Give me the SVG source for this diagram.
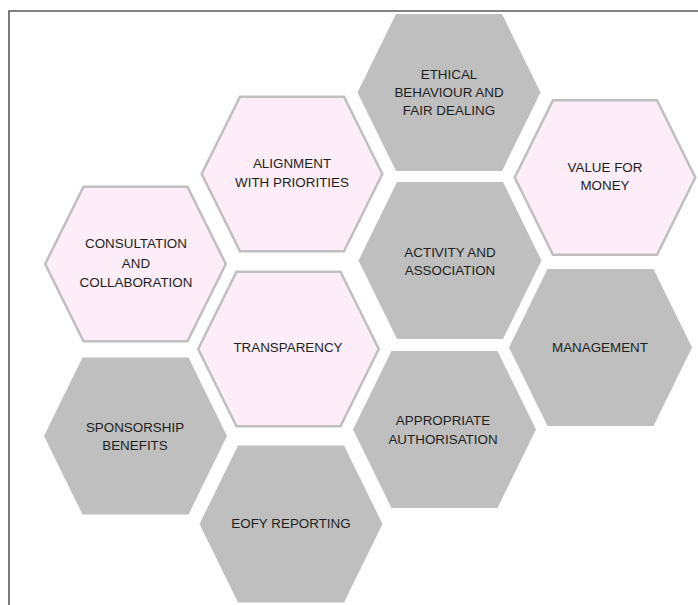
<svg xmlns="http://www.w3.org/2000/svg" xmlns:xlink="http://www.w3.org/1999/xlink" width="698" height="605" viewBox="0 0 698 605">
<style>
.pink{fill:#fcedf8;stroke:#bfbfbf;stroke-width:2.5;stroke-linejoin:miter}
.gray{fill:#bfbfbf;stroke:none}
text{font-family:"Liberation Sans",Arial,sans-serif;font-size:13.4px;fill:#1e1e1e;text-anchor:middle}
</style>
<defs>
<polygon id="hexP" points="-90.3,0 -52,-77.3 52,-77.3 90.3,0 52,77.3 -52,77.3"/>
<polygon id="hexG" points="-91.5,0 -53,-78.5 53,-78.5 91.5,0 53,78.5 -53,78.5"/>
</defs>
<rect width="698" height="605" fill="#ffffff"/>
<path d="M9,605 V11 H698" fill="none" stroke="#595959" stroke-width="1.6"/>
<g id="ethical">
<use xlink:href="#hexG" class="gray" transform="translate(449,92.5)"/>
<text x="449" y="79">ETHICAL</text>
<text x="449" y="97">BEHAVIOUR AND</text>
<text x="449" y="115">FAIR DEALING</text>
</g>
<g id="alignment">
<use xlink:href="#hexP" class="pink" transform="translate(292,174)"/>
<text x="292" y="168">ALIGNMENT</text>
<text x="292" y="187">WITH PRIORITIES</text>
</g>
<g id="value">
<use xlink:href="#hexP" class="pink" transform="translate(605,177.5)"/>
<text x="605" y="172">VALUE FOR</text>
<text x="605" y="190">MONEY</text>
</g>
<g id="consultation">
<use xlink:href="#hexP" class="pink" transform="translate(135.5,264)"/>
<text x="136" y="248">CONSULTATION</text>
<text x="136" y="268">AND</text>
<text x="136" y="287">COLLABORATION</text>
</g>
<g id="activity">
<use xlink:href="#hexG" class="gray" transform="translate(450,260.5)"/>
<text x="450" y="257">ACTIVITY AND</text>
<text x="450" y="275">ASSOCIATION</text>
</g>
<g id="transparency">
<use xlink:href="#hexP" class="pink" transform="translate(288.5,349)"/>
<text x="288" y="352">TRANSPARENCY</text>
</g>
<g id="management">
<use xlink:href="#hexG" class="gray" transform="translate(600.5,347.5)"/>
<text x="600" y="352">MANAGEMENT</text>
</g>
<g id="sponsorship">
<use xlink:href="#hexG" class="gray" transform="translate(135.5,436)"/>
<text x="135" y="432">SPONSORSHIP</text>
<text x="135" y="450">BENEFITS</text>
</g>
<g id="appropriate">
<use xlink:href="#hexG" class="gray" transform="translate(444.5,429.5)"/>
<text x="443" y="425">APPROPRIATE</text>
<text x="443" y="444">AUTHORISATION</text>
</g>
<g id="eofy">
<use xlink:href="#hexG" class="gray" transform="translate(291,524)"/>
<text x="291" y="528">EOFY REPORTING</text>
</g>
</svg>
